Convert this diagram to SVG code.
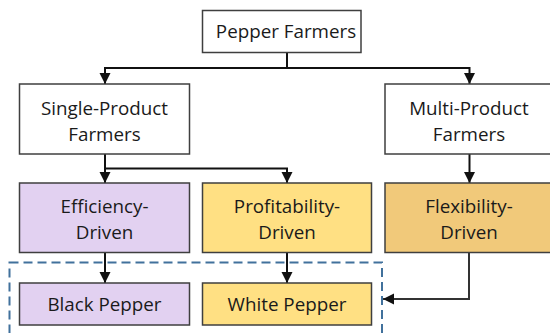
<svg xmlns="http://www.w3.org/2000/svg" width="550" height="333" viewBox="0 0 550 333">
<style>
.box{stroke:#3f3f3f;stroke-width:1.5}
.w{fill:#ffffff}
.p{fill:#e2d1f1}
.y{fill:#ffe083}
.o{fill:#f1c97a}
text{font-family:"Open Sans","Noto Sans",sans-serif;font-size:18.8px;fill:#1a1a1a;text-anchor:middle}
.c{fill:none;stroke:#111;stroke-width:2}
</style>
<defs>
<marker id="ah" markerUnits="userSpaceOnUse" markerWidth="12" markerHeight="12" viewBox="0 0 12 12" refX="11" refY="6" orient="auto">
<path d="M0,0.5 L11,6 L0,11.5 Z" fill="#111"/>
</marker>
</defs>
<rect x="0" y="0" width="550" height="333" fill="#ffffff"/>
<g id="group-box">
<rect x="9.5" y="262.5" width="372.5" height="90" fill="none" stroke="#41719c" stroke-width="2" stroke-dasharray="9,5"/>
</g>
<g id="connectors">
<path class="c" d="M287,52.5 V68 H105 V84" marker-end="url(#ah)"/>
<path class="c" d="M287,68 H469.5 V84" marker-end="url(#ah)"/>
<path class="c" d="M105,154 V183" marker-end="url(#ah)"/>
<path class="c" d="M105,168.5 H287 V183" marker-end="url(#ah)"/>
<path class="c" d="M469.5,154 V183" marker-end="url(#ah)"/>
<path class="c" d="M105,252.5 V283" marker-end="url(#ah)"/>
<path class="c" d="M287,252.5 V283" marker-end="url(#ah)"/>
<path class="c" d="M469,252.5 V299 H383" marker-end="url(#ah)" style="stroke:#333"/>
</g>
<g id="pepper-farmers">
<rect class="box w" x="202.5" y="10.5" width="158.5" height="42"/>
<text x="286" y="37.8">Pepper Farmers</text>
</g>
<g id="single-product">
<rect class="box w" x="19.5" y="84" width="170" height="70"/>
<text x="104.5" y="114.5">Single-Product</text>
<text x="104.5" y="140.5">Farmers</text>
</g>
<g id="multi-product">
<rect class="box w" x="385" y="84" width="175" height="70"/>
<text x="469" y="114.5">Multi-Product</text>
<text x="469" y="140.5">Farmers</text>
</g>
<g id="efficiency">
<rect class="box p" x="19.5" y="183" width="170" height="69.5"/>
<text x="104.5" y="212.5">Efficiency-</text>
<text x="104.5" y="239">Driven</text>
</g>
<g id="profitability">
<rect class="box y" x="202.5" y="183" width="169" height="69.5"/>
<text x="287" y="212.5">Profitability-</text>
<text x="287" y="239">Driven</text>
</g>
<g id="flexibility">
<rect class="box o" x="385" y="183" width="175" height="69.5"/>
<text x="469" y="212.5">Flexibility-</text>
<text x="469" y="239">Driven</text>
</g>
<g id="black-pepper">
<rect class="box p" x="19.5" y="283" width="170" height="42"/>
<text x="104.5" y="311">Black Pepper</text>
</g>
<g id="white-pepper">
<rect class="box y" x="202.5" y="283" width="169" height="42"/>
<text x="287" y="311">White Pepper</text>
</g>
</svg>
